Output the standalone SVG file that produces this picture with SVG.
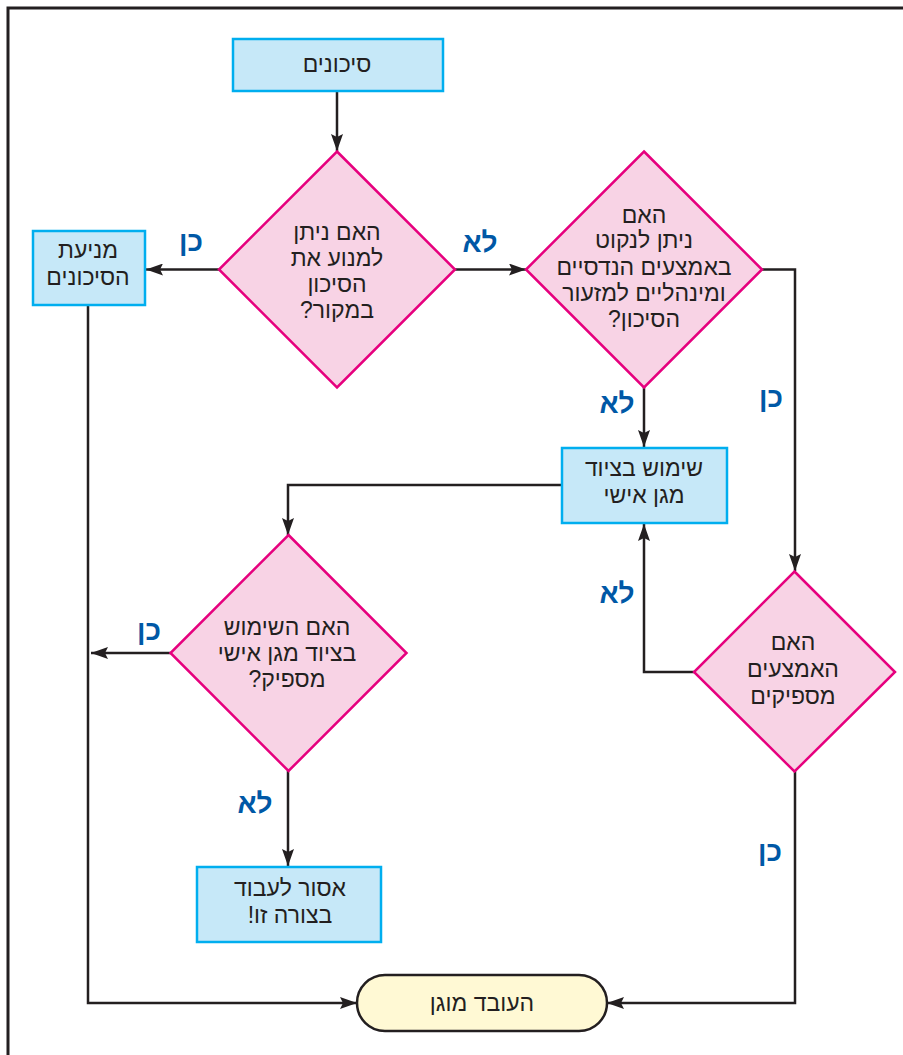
<svg xmlns="http://www.w3.org/2000/svg" width="903" height="1055" viewBox="0 0 903 1055">
<style>
.box{fill:#c6e8f8;stroke:#00aeef;stroke-width:2.5}
.dia{fill:#f8d3e5;stroke:#e6007e;stroke-width:2.5}
.cap{fill:#fff9d4;stroke:#231f20;stroke-width:2.5}
.ln{fill:none;stroke:#231f20;stroke-width:2.5}
.t{font-family:"Liberation Sans","DejaVu Sans",sans-serif;font-size:23px;fill:#231f20;text-anchor:middle;direction:rtl}
.lb{font-family:"Liberation Sans","DejaVu Sans",sans-serif;font-size:28px;font-weight:bold;fill:#0058a6;text-anchor:middle;direction:rtl}
</style>
<defs>
<marker id="ah" markerUnits="userSpaceOnUse" markerWidth="18" markerHeight="12" refX="17" refY="6" orient="auto">
<path d="M0,0 L17,6 L0,12 L3,6 Z" fill="#231f20"/>
</marker>
</defs>
<rect width="903" height="1055" fill="#ffffff"/>
<path d="M903,8 H8 V1055" fill="none" stroke="#231f20" stroke-width="3"/>
<g id="connectors">
<path class="ln" d="M337,91 V151" marker-end="url(#ah)"/>
<path class="ln" d="M219,269.5 H146" marker-end="url(#ah)"/>
<path class="ln" d="M455,269.5 H526" marker-end="url(#ah)"/>
<path class="ln" d="M644,387 V447" marker-end="url(#ah)"/>
<path class="ln" d="M762,269.5 H795 V571" marker-end="url(#ah)"/>
<path class="ln" d="M694,672 H644 V524" marker-end="url(#ah)"/>
<path class="ln" d="M562,485 H288 V535" marker-end="url(#ah)"/>
<path class="ln" d="M171,653 H91" marker-end="url(#ah)"/>
<path class="ln" d="M288,771 V866" marker-end="url(#ah)"/>
<path class="ln" d="M88,305 V1003 H357" marker-end="url(#ah)"/>
<path class="ln" d="M795,771 V1003 H607" marker-end="url(#ah)"/>
</g>
<g id="labels">
<text class="lb" x="191" y="251">כן</text>
<text class="lb" x="480" y="252">לא</text>
<text class="lb" x="617" y="413">לא</text>
<text class="lb" x="771" y="407">כן</text>
<text class="lb" x="617" y="603">לא</text>
<text class="lb" x="149" y="640">כן</text>
<text class="lb" x="255" y="813">לא</text>
<text class="lb" x="770" y="861">כן</text>
</g>
<g id="n-risks">
<rect class="box" x="233" y="39" width="210" height="52"/>
<text class="t" x="337" y="72">סיכונים</text>
</g>
<g id="n-prevent-q">
<polygon class="dia" points="337,151.5 455,269.5 337,387.5 219,269.5"/>
<text class="t" x="337" y="240">האם ניתן</text>
<text class="t" x="337" y="266">למנוע את</text>
<text class="t" x="337" y="292">הסיכון</text>
<text class="t" x="337" y="318">במקור?</text>
</g>
<g id="n-prevention">
<rect class="box" x="33" y="231" width="112" height="74"/>
<text class="t" x="88" y="258">מניעת</text>
<text class="t" x="88" y="285">הסיכונים</text>
</g>
<g id="n-measures-q">
<polygon class="dia" points="644,151.5 762,269.5 644,387.5 526,269.5"/>
<text class="t" x="644" y="223">האם</text>
<text class="t" x="644" y="248">ניתן לנקוט</text>
<text class="t" x="644" y="275">באמצעים הנדסיים</text>
<text class="t" x="644" y="301">ומינהליים למזעור</text>
<text class="t" x="644" y="327">הסיכון?</text>
</g>
<g id="n-ppe">
<rect class="box" x="562" y="448" width="165" height="75"/>
<text class="t" x="644" y="476">שימוש בציוד</text>
<text class="t" x="644" y="503">מגן אישי</text>
</g>
<g id="n-enough-q">
<polygon class="dia" points="794.5,571.5 895,672 794.5,771.5 694,672"/>
<text class="t" x="793" y="650">האם</text>
<text class="t" x="793" y="677">האמצעים</text>
<text class="t" x="793" y="704">מספיקים</text>
</g>
<g id="n-ppe-q">
<polygon class="dia" points="288.5,535 406.5,653 288.5,771 170.5,653"/>
<text class="t" x="287" y="635">האם השימוש</text>
<text class="t" x="287" y="661">בציוד מגן אישי</text>
<text class="t" x="287" y="687">מספיק?</text>
</g>
<g id="n-forbidden">
<rect class="box" x="197" y="867" width="184" height="75"/>
<text class="t" x="290" y="896">אסור לעבוד</text>
<text class="t" x="290" y="923">בצורה זו!</text>
</g>
<g id="n-protected">
<rect class="cap" x="357" y="975" width="250" height="56" rx="28" ry="28"/>
<text class="t" x="482" y="1011">העובד מוגן</text>
</g>
</svg>
